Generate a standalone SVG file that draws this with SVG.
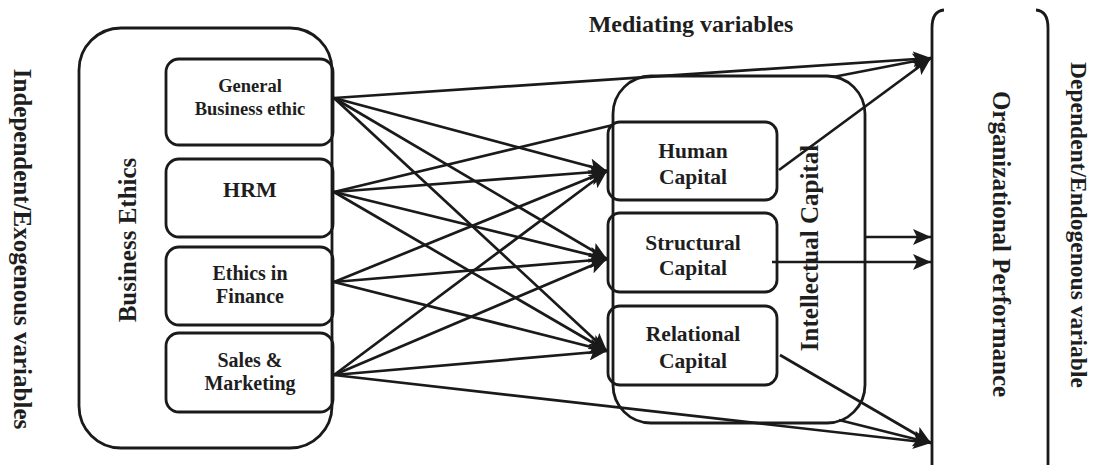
<svg xmlns="http://www.w3.org/2000/svg" width="1101" height="465" viewBox="0 0 1101 465">
<style>
.box{fill:none;stroke:#1a1a1a;stroke-width:2.8}
.ln{fill:none;stroke:#1a1a1a;stroke-width:2.7}
.t{font-family:"Liberation Serif","Times New Roman",serif;font-weight:bold;fill:#1e1e1e;text-anchor:middle}
</style>
<defs>
<marker id="ah" markerUnits="userSpaceOnUse" markerWidth="20" markerHeight="16" refX="18" refY="8" orient="auto">
<path d="M0,0 L18,8 L0,16 L4,8 Z" fill="#1a1a1a"/>
</marker>
</defs>
<rect width="1101" height="465" fill="#fff"/>

<g id="label-independent"><text class="t" font-size="25" transform="translate(14,249) rotate(90)">Independent/Exogenous variables</text></g>
<g id="label-mediating"><text class="t" font-size="24" x="691" y="32">Mediating variables</text></g>
<g id="label-dependent"><text class="t" font-size="23.5" transform="translate(1071,225) rotate(90)">Dependent/Endogenous variable</text></g>

<g id="business-ethics">
<rect class="box" x="79" y="28" width="253" height="420" rx="42"/>
<text class="t" font-size="25" transform="translate(136,240) rotate(-90)">Business Ethics</text>
</g>
<g id="general">
<rect class="box" x="166" y="59" width="167" height="86" rx="13"/>
<text class="t" font-size="18.5" x="250" y="92">General</text>
<text class="t" font-size="18.5" x="250" y="115">Business ethic</text>
</g>
<g id="hrm">
<rect class="box" x="166" y="159" width="167" height="78" rx="13"/>
<text class="t" font-size="22" x="250" y="197">HRM</text>
</g>
<g id="finance">
<rect class="box" x="166" y="247" width="167" height="78" rx="13"/>
<text class="t" font-size="20" x="250" y="280">Ethics in</text>
<text class="t" font-size="20" x="250" y="303">Finance</text>
</g>
<g id="sales">
<rect class="box" x="166" y="333" width="167" height="79" rx="13"/>
<text class="t" font-size="20" x="250" y="367">Sales &amp;</text>
<text class="t" font-size="20" x="250" y="390">Marketing</text>
</g>

<g id="intellectual-capital">
<rect class="box" x="613" y="76" width="252" height="347" rx="38"/>
<text class="t" font-size="25" transform="translate(818,248) rotate(-90)">Intellectual Capital</text>
</g>
<g id="human">
<rect class="box" x="608" y="122" width="169" height="78" rx="12"/>
<text class="t" font-size="21.5" x="693" y="158">Human</text>
<text class="t" font-size="21.5" x="693" y="184">Capital</text>
</g>
<g id="structural">
<rect class="box" x="608" y="213" width="169" height="79" rx="12"/>
<text class="t" font-size="21.5" x="693" y="250">Structural</text>
<text class="t" font-size="21.5" x="693" y="275">Capital</text>
</g>
<g id="relational">
<rect class="box" x="608" y="306" width="169" height="79" rx="12"/>
<text class="t" font-size="21.5" x="693" y="341">Relational</text>
<text class="t" font-size="21.5" x="693" y="368">Capital</text>
</g>

<g id="organizational-performance">
<path class="box" d="M944,10 Q932,11 932,28 V465"/>
<path class="box" d="M1036,10 Q1048,11 1048,28 V465"/>
<text class="t" font-size="25" transform="translate(993,244) rotate(90)">Organizational Performance</text>
</g>

<g id="connectors">
<line class="ln" x1="334" y1="98" x2="931" y2="58" marker-end="url(#ah)"/>
<line class="ln" x1="334" y1="98" x2="607" y2="171" marker-end="url(#ah)"/>
<line class="ln" x1="334" y1="98" x2="607" y2="259" marker-end="url(#ah)"/>
<line class="ln" x1="334" y1="98" x2="607" y2="351" marker-end="url(#ah)"/>
<line class="ln" x1="334" y1="192" x2="613" y2="125"/>
<line class="ln" x1="334" y1="192" x2="607" y2="171" marker-end="url(#ah)"/>
<line class="ln" x1="334" y1="192" x2="607" y2="259" marker-end="url(#ah)"/>
<line class="ln" x1="334" y1="192" x2="607" y2="351" marker-end="url(#ah)"/>
<line class="ln" x1="334" y1="282" x2="607" y2="171" marker-end="url(#ah)"/>
<line class="ln" x1="334" y1="282" x2="607" y2="259" marker-end="url(#ah)"/>
<line class="ln" x1="334" y1="282" x2="607" y2="351" stroke-width="3.8" marker-end="url(#ah)"/>
<line class="ln" x1="334" y1="375" x2="607" y2="171" marker-end="url(#ah)"/>
<line class="ln" x1="334" y1="375" x2="607" y2="259" marker-end="url(#ah)"/>
<line class="ln" x1="334" y1="375" x2="607" y2="351" marker-end="url(#ah)"/>
<line class="ln" x1="334" y1="375" x2="931" y2="443" marker-end="url(#ah)"/>
<line class="ln" x1="779" y1="170" x2="931" y2="58" marker-end="url(#ah)"/>
<line class="ln" x1="833" y1="77" x2="931" y2="58" marker-end="url(#ah)"/>
<line class="ln" x1="865" y1="237" x2="931" y2="237" marker-end="url(#ah)"/>
<line class="ln" x1="772" y1="262" x2="931" y2="262" marker-end="url(#ah)"/>
<line class="ln" x1="780" y1="355" x2="931" y2="443" marker-end="url(#ah)"/>
<line class="ln" x1="839" y1="420" x2="931" y2="443" marker-end="url(#ah)"/>
</g>
</svg>
